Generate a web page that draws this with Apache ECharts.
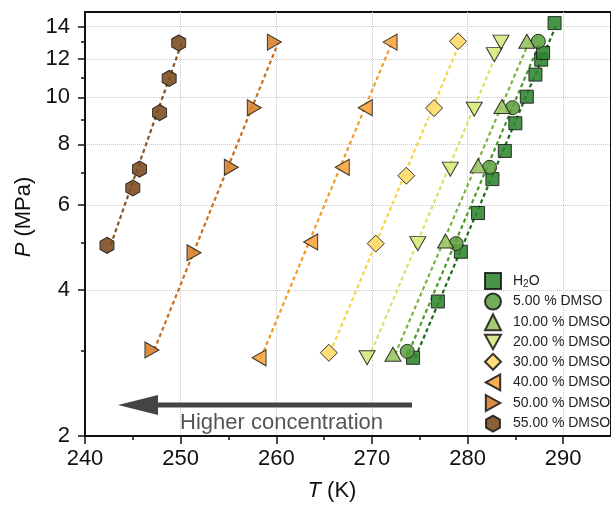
<!DOCTYPE html>
<html>
<head>
<meta charset="utf-8">
<script src="https://cdn.jsdelivr.net/npm/echarts@6/dist/echarts.min.js"></script>
<style>
html, body { margin: 0; padding: 0; background: #fff; }
#main { width: 611px; height: 507px; }
</style>
</head>
<body>
<div id="main"></div>
<script>
// series names (legend order)
var names = ['H2O', '5.00 % DMSO', '10.00 % DMSO', '20.00 % DMSO', '30.00 % DMSO', '40.00 % DMSO', '50.00 % DMSO', '55.00 % DMSO'];

// T (K) and P (MPa)
var h2oT = [274.3, 276.9, 279.3, 281.1, 282.6, 283.9, 285.0, 286.2, 287.1, 287.7, 287.9, 289.1];
var h2oP = [2.90, 3.79, 4.80, 5.77, 6.78, 7.75, 8.84, 10.03, 11.14, 11.96, 12.35, 14.23];
var d5T = [273.7, 278.8, 282.3, 284.7, 287.4];
var d5P = [2.99, 4.99, 7.17, 9.52, 13.05];
var d10T = [272.2, 277.7, 281.1, 283.6, 286.2];
var d10P = [2.95, 5.05, 7.22, 9.57, 13.05];
var d20T = [269.5, 274.8, 278.2, 280.7, 282.8, 283.5];
var d20P = [2.90, 4.99, 7.11, 9.45, 12.25, 13.0];
var d30T = [265.5, 270.4, 273.6, 276.5, 279.0];
var d30P = [2.97, 4.99, 6.89, 9.50, 13.05];
var d40T = [258.2, 263.6, 266.9, 269.3, 271.9];
var d40P = [2.90, 5.03, 7.17, 9.52, 13.0];
var d50T = [247.0, 251.4, 255.3, 257.7, 259.8];
var d50P = [3.01, 4.78, 7.17, 9.52, 13.0];
var d55T = [242.3, 245.0, 245.7, 247.8, 248.8, 249.8];
var d55P = [4.95, 6.50, 7.11, 9.30, 10.94, 12.95];

// tick labels
var xTicks = [240, 250, 260, 270, 280, 290];
var xMinor = [245, 255, 265, 275, 285];
var yTicks = [2, 4, 6, 8, 10, 12, 14];
var yMinor = [3, 5, 7, 9, 11, 13];

var allT = [h2oT, d5T, d10T, d20T, d30T, d40T, d50T, d55T];
var allP = [h2oP, d5P, d10P, d20P, d30P, d40P, d50P, d55P];

var fills = ['#2e842e', '#5fa040', '#98c45e', '#d8e67a', '#ffd966', '#f8a23c', '#d77f2a', '#7b4a1e'];
var lineColors = ['#1c6e1c', '#4c9a2a', '#7cb342', '#d4e46a', '#f5d547', '#f39a2a', '#c8701e', '#8a5522'];
var symbols = [
    'rect',
    'circle',
    'triangle',
    'path://M0,0 L2,0 L1,1.8 Z',
    'diamond',
    'path://M0,1 L1.8,0 L1.8,2 Z',
    'path://M0,0 L1.8,1 L0,2 Z',
    'path://M1,0 L1.866,0.5 L1.866,1.5 L1,2 L0.134,1.5 L0.134,0.5 Z'
];
var sizes = [13, 14, [16, 14], [16, 14], 17, [14, 16], [14, 16], [14, 16]];

var FONT = 'Liberation Sans, Arial, sans-serif';
function lg(v) { return Math.log10(v); }

// least squares T = a + b*log10(P), drawn over the data range
function fit(T, P) {
    var x = P.map(lg);
    var n = x.length, mx = 0, mt = 0;
    for (var i = 0; i < n; i++) { mx += x[i]; mt += T[i]; }
    mx /= n; mt /= n;
    var sxy = 0, sxx = 0;
    for (var j = 0; j < n; j++) { sxy += (x[j] - mx) * (T[j] - mt); sxx += (x[j] - mx) * (x[j] - mx); }
    var b = sxy / sxx, a = mt - b * mx;
    var lo = Math.min.apply(null, x), hi = Math.max.apply(null, x);
    return [[a + b * lo, lo], [a + b * hi, hi]];
}

var series = [];
for (var k = 0; k < names.length; k++) {
    series.push({
        type: 'line',
        data: fit(allT[k], allP[k]),
        symbol: 'none',
        silent: true,
        z: 2,
        lineStyle: { color: lineColors[k], width: 2.2, type: [4, 3] }
    });
}
for (var s = 0; s < names.length; s++) {
    var T = allT[s], P = allP[s];
    series.push({
        name: names[s],
        type: 'scatter',
        data: T.map(function (t, i) { return [t, lg(P[i])]; }),
        symbol: symbols[s],
        symbolSize: sizes[s],
        z: 3,
        itemStyle: { color: fills[s], borderColor: '#1a1a1a', borderWidth: 1, opacity: 0.88 }
    });
}

var myChart = echarts.init(document.getElementById('main'));
myChart.setOption({
    backgroundColor: '#fff',
    animation: false,
    grid: { left: 85, right: -3, top: 12, bottom: 69, show: true, borderColor: '#111', borderWidth: 2 },
    legend: {
        data: names,
        orient: 'vertical',
        left: 484,
        top: 272,
        padding: 0,
        itemWidth: 16,
        itemHeight: 16,
        itemGap: 2.6,
        formatter: function (n) { return n === 'H2O' ? 'H{sub|2}O' : n; },
        textStyle: {
            fontSize: 14, color: '#222', fontFamily: FONT, padding: [0, 0, 0, 7], lineHeight: 16,
            rich: { sub: { fontSize: 10, verticalAlign: 'bottom', color: '#222', fontFamily: FONT } }
        }
    },
    xAxis: [{
        type: 'value', min: 240, max: 295,
        name: '{i|T} (K)', nameLocation: 'middle', nameGap: 44,
        nameTextStyle: { fontSize: 22, color: '#111', fontFamily: FONT, padding: [0, 32, 0, 0],
            rich: { i: { fontStyle: 'italic', fontSize: 22, color: '#111', fontFamily: FONT } } },
        axisLine: { onZero: false, lineStyle: { color: '#111', width: 2 } },
        axisTick: { customValues: xTicks, length: 8, lineStyle: { color: '#111', width: 1.5 } },
        axisLabel: { customValues: xTicks, fontSize: 22, color: '#111', margin: 12, fontFamily: FONT },
        splitLine: { show: true, lineStyle: { color: '#c8c8c8', type: 'dotted', width: 1 } }
    }, {
        type: 'value', min: 240, max: 295, position: 'bottom',
        axisLine: { show: false, onZero: false },
        axisTick: { customValues: xMinor, length: 4, lineStyle: { color: '#111', width: 1.5 } },
        axisLabel: { show: false },
        splitLine: { show: false }
    }],
    yAxis: [{
        type: 'value', min: lg(2), max: lg(15),
        name: '{i|P} (MPa)', nameLocation: 'middle', nameRotate: 90, nameGap: 50,
        nameTextStyle: { fontSize: 22, color: '#111', fontFamily: FONT, padding: [0, 0, 0, 14],
            rich: { i: { fontStyle: 'italic', fontSize: 22, color: '#111', fontFamily: FONT } } },
        axisLine: { show: true, onZero: false, lineStyle: { color: '#111', width: 2 } },
        axisTick: { customValues: yTicks.map(lg), length: 7, lineStyle: { color: '#111', width: 1.5 } },
        axisLabel: { customValues: yTicks.map(lg), fontSize: 22, color: '#111', margin: 15, fontFamily: FONT,
            formatter: function (v) { return String(Math.round(Math.pow(10, v))); } },
        splitLine: { show: true, lineStyle: { color: '#c8c8c8', type: 'dotted', width: 1 } }
    }, {
        type: 'value', min: lg(2), max: lg(15), position: 'left',
        axisLine: { show: false, onZero: false },
        axisTick: { customValues: yMinor.map(lg), length: 4, lineStyle: { color: '#111', width: 1.5 } },
        axisLabel: { show: false },
        splitLine: { show: false }
    }],
    graphic: [
        { type: 'line', shape: { x1: 412, y1: 405, x2: 150, y2: 405 }, style: { stroke: '#444', lineWidth: 5 }, z: 5 },
        { type: 'polygon', shape: { points: [[118, 405], [158, 395], [158, 415]] }, style: { fill: '#444' }, z: 5 },
        { type: 'text', left: 180, top: 412, style: { text: 'Higher concentration', fontSize: 22, fill: '#555', fontFamily: FONT }, z: 5 }
    ],
    series: series
});
</script>
</body>
</html>
